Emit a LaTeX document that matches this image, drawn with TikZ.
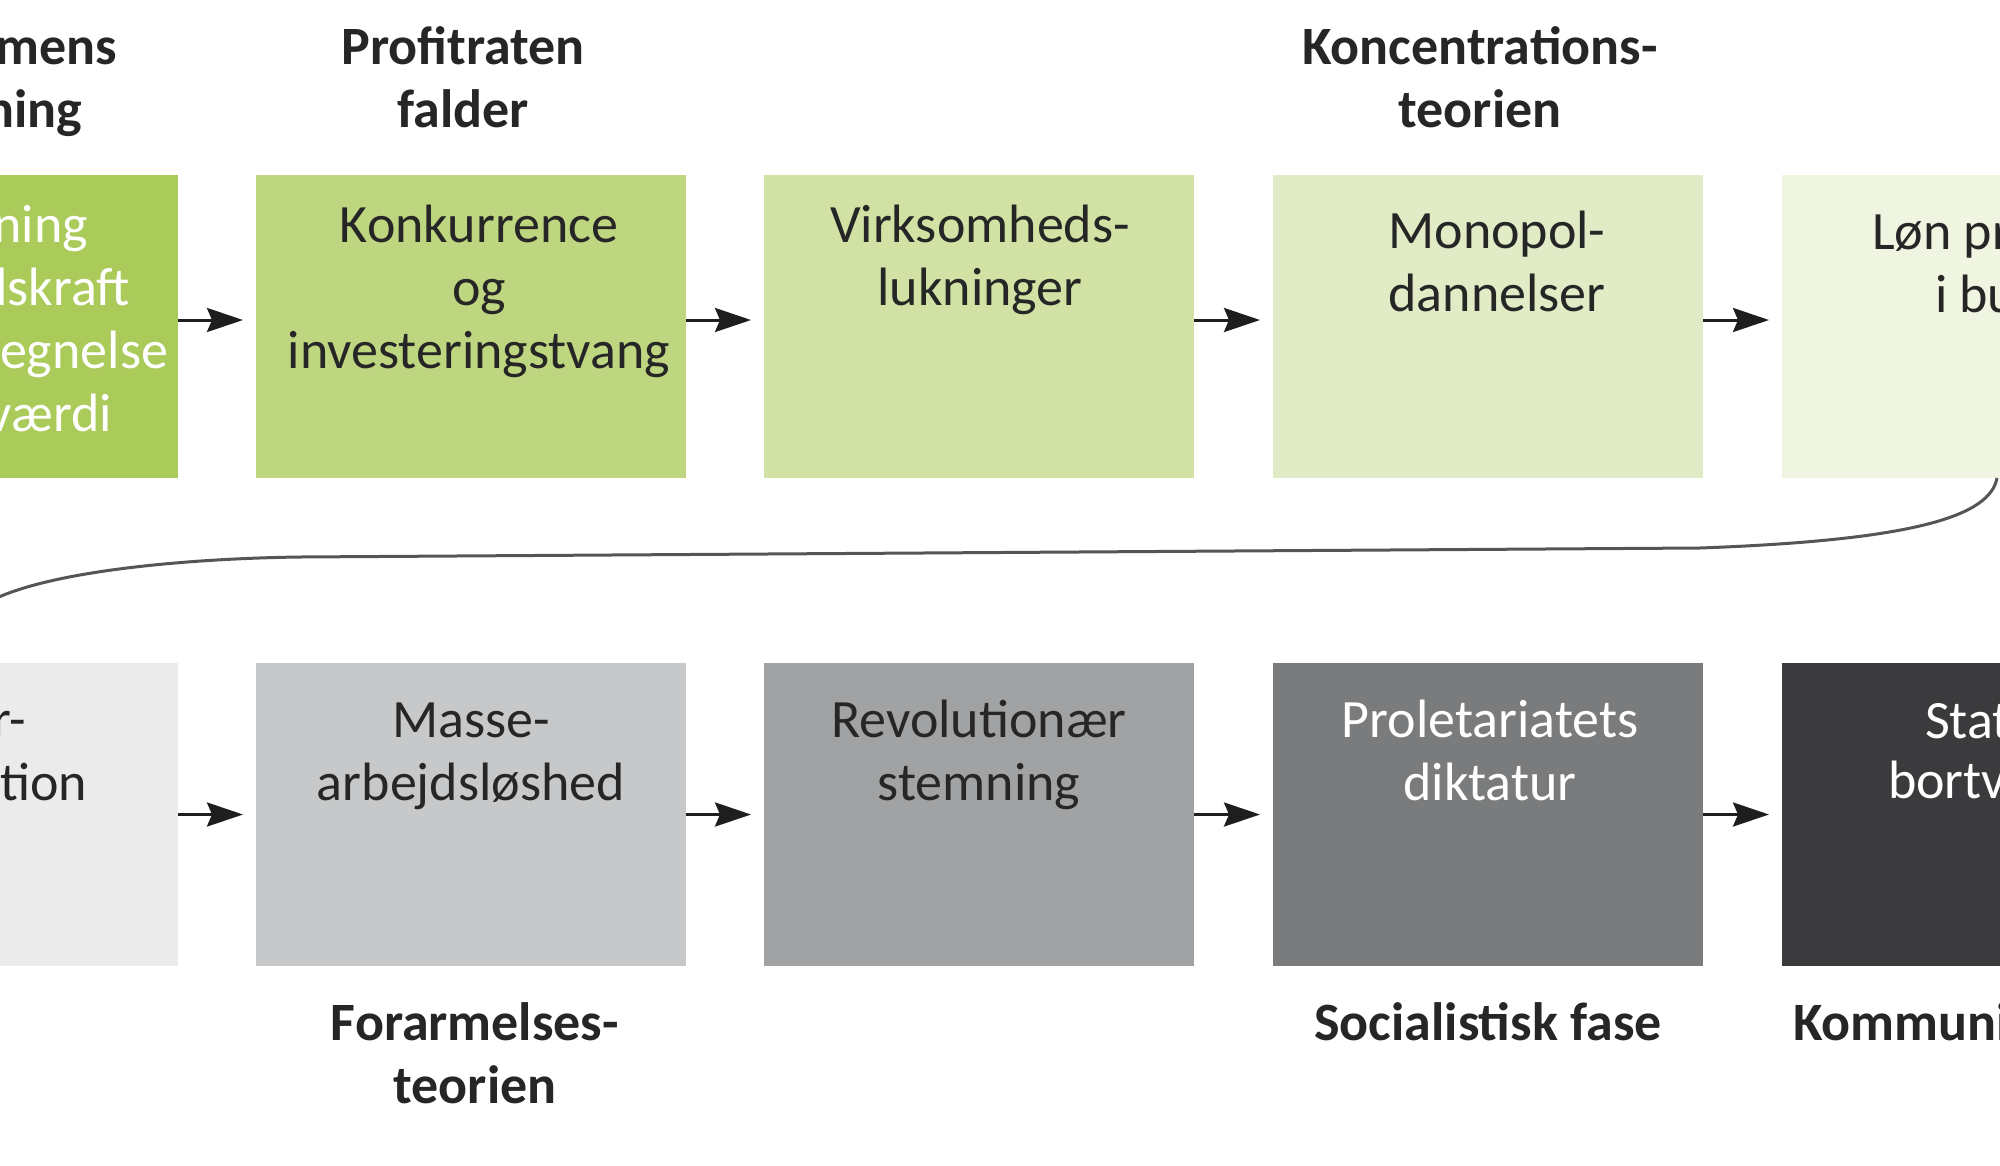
\documentclass[tikz,border=0pt]{standalone}
\usepackage{fontspec}
\setmainfont{Carlito}
\usetikzlibrary{arrows.meta,calc}
\newcommand\boxfont{\fontsize{54pt}{63pt}\selectfont}
\newcommand\lblfont{\fontsize{54pt}{63pt}\selectfont\bfseries}
\definecolor{gA}{HTML}{AACB5A}
\definecolor{gB}{HTML}{BFD680}
\definecolor{gC}{HTML}{D1E2A4}
\definecolor{gD}{HTML}{E1ECC6}
\definecolor{gE}{HTML}{F0F5E2}
\definecolor{kA}{HTML}{EBEBEC}
\definecolor{kB}{HTML}{C7C8C9}
\definecolor{kC}{HTML}{A1A2A3}
\definecolor{kD}{HTML}{7A7B7C}
\definecolor{kE}{HTML}{3B3A3C}
\definecolor{textc}{HTML}{262626}
\definecolor{arrowc}{HTML}{1E1E1E}
\definecolor{curvec}{HTML}{555555}
\tikzset{
  stagebox/.style={rectangle, inner sep=0pt, outer sep=0pt, minimum width=430pt, minimum height=303pt, anchor=north west, draw=none},
  boxtxt/.style={inner sep=0pt, outer sep=0pt, align=center, anchor=north, font=\boxfont, text=textc},
  boxfrag/.style={inner sep=0pt, outer sep=0pt, font=\boxfont, text=textc},
  lbltxt/.style={inner sep=0pt, outer sep=0pt, align=center, anchor=north, font=\lblfont, text=textc},
  lblfrag/.style={inner sep=0pt, outer sep=0pt, font=\lblfont, text=textc},
  flowarrow/.style={line width=3pt, draw=arrowc, -{Stealth[length=36pt,width=24pt,inset=5pt]}, shorten >=13pt},
  returncurve/.style={line width=3pt, draw=curvec, -{Stealth[length=36pt,width=24pt,inset=5pt]}}
}
\begin{document}
\begin{tikzpicture}[x=1pt,y=-1pt]
\useasboundingbox (0,0) rectangle (2000,1165);
\fill[white] (0,0) rectangle (2000,1165);
\clip (0,0) rectangle (2000,1165);
% top row boxes
\node[stagebox, fill=gA] (t1) at (-252,175) {};
\node[stagebox, fill=gB] (t2) at (256,175) {};
\node[stagebox, fill=gC] (t3) at (764,175) {};
\node[stagebox, fill=gD] (t4) at (1273,175) {};
\node[stagebox, fill=gE] (t5) at (1782,175) {};
% bottom row boxes
\node[stagebox, fill=kA] (b1) at (-252,663) {};
\node[stagebox, fill=kB] (b2) at (256,663) {};
\node[stagebox, fill=kC] (b3) at (764,663) {};
\node[stagebox, fill=kD] (b4) at (1273,663) {};
\node[stagebox, fill=kE] (b5) at (1782,663) {};
% top row texts
\node[boxfrag, text=white, anchor=base east] (t1a) at (88,242) {ning};
\node[boxfrag, text=white, anchor=base east] (t1b) at (130,305) {dskraft};
\node[boxfrag, text=white, anchor=base east] (t1c) at (168,368) {legnelse};
\node[boxfrag, text=white, anchor=base east] (t1d) at (112,431) {værdi};
\node[boxtxt] (t2t) at (479,197.9) {\strut Konkurrence\\og\\investeringstvang};
\node[boxtxt] (t3t) at (980,197.9) {\strut Virksomheds-\\lukninger};
\node[boxtxt] (t4t) at (1497,203.9) {\strut Monopol-\\dannelser};
\node[boxfrag, anchor=base west] (t5a) at (1872,249) {Løn pr};
\node[boxfrag, anchor=base west] (t5b) at (1935,312) {i bu};
% bottom row texts
\node[boxfrag, anchor=base east] (b1a) at (26,737) {r-};
\node[boxfrag, anchor=base east] (b1b) at (87,800) {tion};
\node[boxtxt] (b2t) at (471,692.9) {\strut Masse-\\arbejdsløshed};
\node[boxtxt] (b3t) at (979,692.9) {\strut Revolutionær\\stemning};
\node[boxtxt, text=white] (b4t) at (1490,692.9) {\strut Proletariatets\\diktatur};
\node[boxfrag, text=white, anchor=base west] (b5a) at (1925,738) {Stat};
\node[boxfrag, text=white, anchor=base west] (b5b) at (1888,798) {bortv};
% labels
\node[lblfrag, anchor=base east] (l1a) at (117,64) {mens};
\node[lblfrag, anchor=base east] (l1b) at (82,127) {ning};
\node[lbltxt] (l2) at (463,19.9) {\strut Profitraten\\falder};
\node[lbltxt] (l4) at (1480,19.9) {\strut Koncentrations-\\teorien};
\node[lbltxt] (l6) at (475,995.9) {\strut Forarmelses-\\teorien};
\node[lblfrag, anchor=base] (l8) at (1488,1040) {Socialistisk fase};
\node[lblfrag, anchor=base west] (l9) at (1793,1040) {Kommuni};
% arrows
\draw[flowarrow] ($(t1.east)+(0,-6.5)$) -- ($(t2.west)+(0,-6.5)$);
\draw[flowarrow] ($(t2.east)+(0,-6.5)$) -- ($(t3.west)+(0,-6.5)$);
\draw[flowarrow] ($(t3.east)+(0,-6.5)$) -- ($(t4.west)+(0,-6.5)$);
\draw[flowarrow] ($(t4.east)+(0,-6.5)$) -- ($(t5.west)+(0,-6.5)$);
\draw[flowarrow] (b1.east) -- (b2.west);
\draw[flowarrow] (b2.east) -- (b3.west);
\draw[flowarrow] (b3.east) -- (b4.west);
\draw[flowarrow] (b4.east) -- (b5.west);
% return curve
\draw[returncurve] (t5.south) .. controls (1990,515) and (1920,540) .. (1700,548)
  -- (300,557) .. controls (150,559) and (-37,580) .. (b1.north);
\end{tikzpicture}
\end{document}
